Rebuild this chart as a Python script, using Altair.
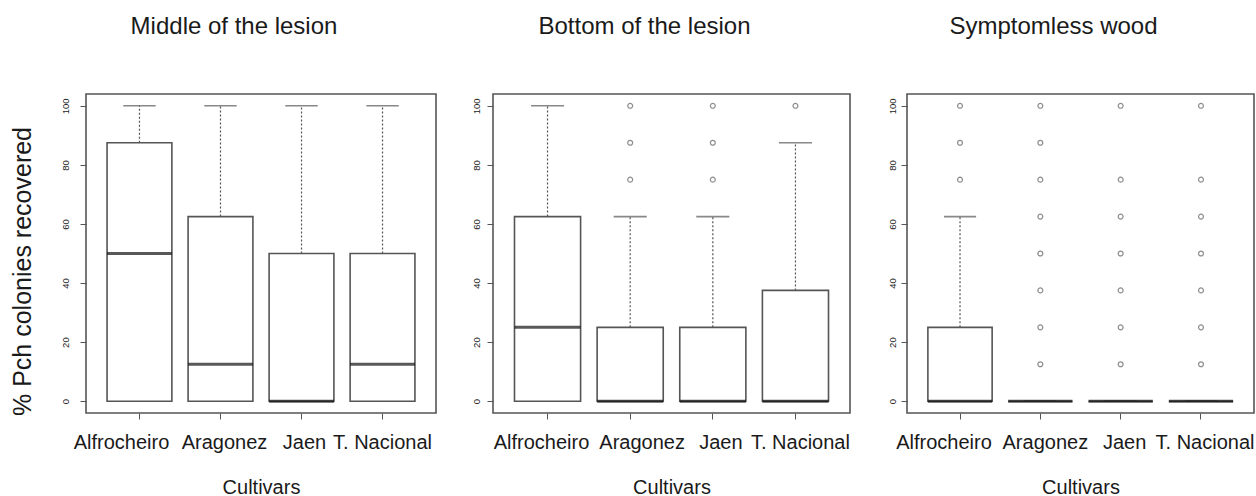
import altair as alt
import pandas as pd

cultivars = ["Alfrocheiro", "Aragonez", "Jaen", "T. Nacional"]
regions = ["Middle of the lesion", "Bottom of the lesion", "Symptomless wood"]

# Box-plot summaries (% Pch colonies recovered), one value per cultivar
lower_whisker = {
    "Middle of the lesion": [0, 0, 0, 0],
    "Bottom of the lesion": [0, 0, 0, 0],
    "Symptomless wood": [0, 0, 0, 0],
}
lower_hinge = {
    "Middle of the lesion": [0, 0, 0, 0],
    "Bottom of the lesion": [0, 0, 0, 0],
    "Symptomless wood": [0, 0, 0, 0],
}
median = {
    "Middle of the lesion": [50, 12.5, 0, 12.5],
    "Bottom of the lesion": [25, 0, 0, 0],
    "Symptomless wood": [0, 0, 0, 0],
}
upper_hinge = {
    "Middle of the lesion": [87.5, 62.5, 50, 50],
    "Bottom of the lesion": [62.5, 25, 25, 37.5],
    "Symptomless wood": [25, 0, 0, 0],
}
upper_whisker = {
    "Middle of the lesion": [100, 100, 100, 100],
    "Bottom of the lesion": [100, 62.5, 62.5, 87.5],
    "Symptomless wood": [62.5, 0, 0, 0],
}
# Outlying observations per cultivar
outliers = {
    "Middle of the lesion": [[], [], [], []],
    "Bottom of the lesion": [[], [75, 87.5, 100], [75, 87.5, 100], [100]],
    "Symptomless wood": [
        [75, 87.5, 100],
        [12.5, 25, 37.5, 50, 62.5, 75, 87.5, 100],
        [12.5, 25, 37.5, 50, 62.5, 75, 100],
        [12.5, 25, 37.5, 50, 62.5, 75, 100],
    ],
}
y_ticks = [0, 20, 40, 60, 80, 100]

FONT = "Liberation Sans"
TEXT = "#1a1a1a"
LINE = "#555555"
PLOT_H = 319

# horizontal nudges (px) that keep the wide cultivar names apart
label_nudge = {
    "Middle of the lesion": [-18, 4, 3, 0],
    "Bottom of the lesion": [-6, 12, 8, 5],
    "Symptomless wood": [-16, 5, 4, 4],
}


def panel(region, width, label_pad, y_title=None):
    step = width / 4.32
    boxes = pd.DataFrame({
        "cultivar": cultivars,
        "lo": lower_whisker[region],
        "q1": lower_hinge[region],
        "median": median[region],
        "q3": upper_hinge[region],
        "hi": upper_whisker[region],
    })
    pts = pd.DataFrame(
        [(c, v) for c, vals in zip(cultivars, outliers[region]) for v in vals],
        columns=["cultivar", "value"],
    )

    nudge = {
        "condition": [
            {"test": f"datum.value === '{c}'", "value": o}
            for c, o in zip(cultivars, label_nudge[region])
        ],
        "value": 0,
    }
    x = alt.X(
        "cultivar:N",
        scale=alt.Scale(domain=cultivars, paddingInner=0.2, paddingOuter=0.26),
        axis=alt.Axis(
            title="Cultivars", labelAngle=0, labelFontSize=20, labelPadding=13,
            labelOffset=nudge, tickSize=6, titleFontSize=20, titlePadding=25,
            labelOverlap=False, labelFlush=False,
        ),
    )
    yscale = alt.Scale(domain=[-4, 104], nice=False, zero=False)
    axis_kw = dict(
        values=y_ticks, labelAngle=270, labelAlign="center",
        labelBaseline="alphabetic", labelFontSize=9.5, labelPadding=label_pad,
        tickSize=6, titleFontSize=25, titlePadding=25, titleY=177,
        labelOverlap=False, labelFlush=False,
    )
    axis_kw["title"] = y_title if y_title else ""
    yaxis = alt.Axis(**axis_kw)

    def Y(field):
        return alt.Y(f"{field}:Q", scale=yscale, axis=yaxis)

    base = alt.Chart(boxes)
    whisk_up = base.mark_rule(color=LINE, strokeDash=[2, 2], strokeWidth=1.2).encode(
        x=x, y=Y("q3"), y2="hi")
    whisk_lo = base.mark_rule(color=LINE, strokeDash=[2, 2], strokeWidth=1.2).encode(
        x=x, y=Y("lo"), y2="q1")
    box = base.mark_bar(fill="white", stroke=LINE, strokeWidth=1.6).encode(
        x=x, y=Y("q1"), y2="q3")
    cap_hi = base.mark_tick(orient="horizontal", size=0.4 * step, thickness=1.6,
                            color=LINE).encode(x=x, y=Y("hi"))
    cap_lo = base.mark_tick(orient="horizontal", size=0.4 * step, thickness=1.6,
                            color=LINE).encode(x=x, y=Y("lo"))
    med = base.mark_tick(orient="horizontal", size=0.8 * step, thickness=3,
                         color="#111111").encode(x=x, y=Y("median"))
    layers = [whisk_up, whisk_lo, cap_hi, cap_lo, box, med]
    if len(pts):
        layers.append(
            alt.Chart(pts).mark_point(shape="circle", filled=False, size=24,
                                      stroke="#5e5e5e", strokeWidth=1.2)
            .encode(x=x, y=Y("value"))
        )
    return alt.layer(*layers).properties(
        width=width,
        height=PLOT_H,
        title=alt.TitleParams(
            text=region, fontSize=24, font=FONT, fontWeight="normal",
            color=TEXT, anchor="middle", frame="group", dx=-27, offset=55,
        ),
    )


chart = (
    alt.hconcat(
        panel(regions[0], 350, 12, "% Pch colonies recovered"),
        panel(regions[1], 357, 8),
        panel(regions[2], 347, 6),
        spacing=57,
        bounds="flush",
    )
    .configure_view(stroke=LINE, strokeWidth=1.6)
    .configure_axis(
        domain=False, grid=False, tickColor=LINE, tickWidth=1,
        labelFont=FONT, titleFont=FONT, labelColor=TEXT, titleColor=TEXT,
        titleFontWeight="normal",
    )
    .properties(padding={"left": 9, "top": 14, "right": 0, "bottom": 0},
                background="white")
)

chart.save("out.html", embed_options={"renderer": "svg", "actions": False})
